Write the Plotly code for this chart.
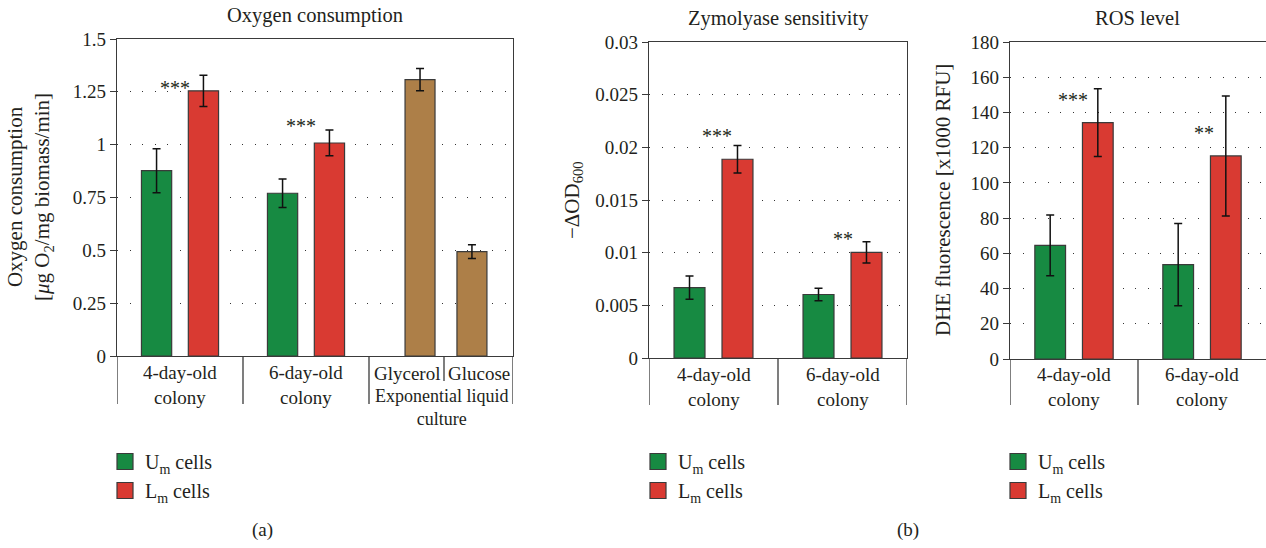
import plotly.graph_objects as go

W, H = 1266, 548

# ---------------- data ----------------
# (a) Oxygen consumption
a_colony_labels = ["4-day-old<br>colony", "6-day-old<br>colony"]
a_um = [0.877, 0.770]
a_um_err = [0.104, 0.067]
a_lm = [1.255, 1.008]
a_lm_err = [0.074, 0.061]
a_liquid_labels = ["Glycerol", "Glucose"]
a_liquid = [1.308, 0.494]
a_liquid_err = [0.053, 0.033]
a_liquid_group = "Exponential liquid<br>culture"
a_sig = ["***", "***"]
a_ticks = [0, 0.25, 0.5, 0.75, 1, 1.25, 1.5]
a_ticktext = ["0", "0.25", "0.5", "0.75", "1", "1.25", "1.5"]

# (b) Zymolyase sensitivity
b_labels = ["4-day-old<br>colony", "6-day-old<br>colony"]
b_um = [0.00668, 0.00603]
b_um_err = [0.0011, 0.0006]
b_lm = [0.01887, 0.01003]
b_lm_err = [0.0013, 0.0010]
b_sig = ["***", "**"]
b_ticks = [0, 0.005, 0.01, 0.015, 0.02, 0.025, 0.03]
b_ticktext = ["0", "0.005", "0.01", "0.015", "0.02", "0.025", "0.03"]

# (c) ROS level
c_labels = ["4-day-old<br>colony", "6-day-old<br>colony"]
c_um = [64.5, 53.6]
c_um_err = [17.2, 23.3]
c_lm = [134.2, 115.3]
c_lm_err = [19.2, 34.1]
c_sig = ["***", "**"]
c_ticks = [0, 20, 40, 60, 80, 100, 120, 140, 160, 180]
c_ticktext = [str(v) for v in c_ticks]

series_names = ["U<sub>m</sub> cells", "L<sub>m</sub> cells"]

# ---------------- style ----------------
FONT = "Liberation Serif"
TXT = "#231f20"
GREEN, RED, BROWN = "#178a42", "#d93a32", "#ad7f48"
EDGE = "#3a3a3a"
FS = 19

fig = go.Figure()

colony_x = [0.5, 1.5]
OFF = 0.186
BW = 0.24


def err(arr):
    return dict(type="data", array=arr, color="#111111", thickness=1.5, width=4)


def add_pair(um, um_e, lm, lm_e, xa, ya, leg):
    for vals, errs, col, name, dx in ((um, um_e, GREEN, series_names[0], -OFF),
                                      (lm, lm_e, RED, series_names[1], OFF)):
        fig.add_trace(go.Bar(x=[c + dx for c in colony_x], y=vals, width=BW, error_y=err(errs),
                             marker=dict(color=col, line=dict(color=EDGE, width=1.2)),
                             name=name, xaxis=xa, yaxis=ya, showlegend=False, legendgroup=name))
        # legend key (larger square swatch than the default bar key)
        fig.add_trace(go.Scatter(x=[None], y=[None], mode="markers", name=name, xaxis=xa, yaxis=ya,
                                 legend=leg, legendgroup=name, hoverinfo="skip",
                                 marker=dict(symbol="square", size=18, color=col,
                                             line=dict(color=EDGE, width=1.2))))


add_pair(a_um, a_um_err, a_lm, a_lm_err, "x", "y", "legend")
liquid_x = [2.405, 2.817]
fig.add_trace(go.Bar(x=liquid_x, y=a_liquid, width=0.238, error_y=err(a_liquid_err),
                     marker=dict(color=BROWN, line=dict(color=EDGE, width=1.2)),
                     name="Exponential liquid culture", showlegend=False, xaxis="x", yaxis="y"))
add_pair(b_um, b_um_err, b_lm, b_lm_err, "x2", "y2", "legend2")
add_pair(c_um, c_um_err, c_lm, c_lm_err, "x3", "y3", "legend3")


# ---------------- axes ----------------
def px_x(p):
    return p / W


def px_y(p):
    return 1 - p / H


tickfont = dict(family=FONT, size=FS, color=TXT)
common_x = dict(showline=True, linecolor=EDGE, linewidth=1.3, mirror=True, ticks="",
                showticklabels=False, showgrid=False, zeroline=False, automargin=False)
common_y = dict(showline=True, linecolor=EDGE, linewidth=1.3, ticks="outside", ticklen=6,
                tickcolor=EDGE, tickwidth=1.2, showgrid=True, gridcolor="#333333",
                gridwidth=1.4, griddash="1px,11.5px", zeroline=False, tickfont=tickfont,
                automargin=False)

pa = dict(l=117, r=513, t=39, b=356)
pb = dict(l=649, r=907, t=42, b=358)
pc = dict(l=1010, r=1266, t=42, b=359)

fig.update_layout(
    xaxis=dict(domain=[px_x(pa["l"]), px_x(pa["r"])], range=[0, 396 / 126], anchor="y", **common_x),
    yaxis=dict(domain=[px_y(pa["b"]), px_y(pa["t"])], range=[0, 1.5], anchor="x", mirror=True,
               tickvals=a_ticks, ticktext=a_ticktext, **common_y),
    xaxis2=dict(domain=[px_x(pb["l"]), px_x(pb["r"])], range=[0, 2], anchor="y2", **common_x),
    yaxis2=dict(domain=[px_y(pb["b"]), px_y(pb["t"])], range=[0, 0.03], anchor="x2", mirror=True,
                tickvals=b_ticks, ticktext=b_ticktext, **common_y),
    xaxis3=dict(domain=[px_x(pc["l"]), px_x(pc["r"])], range=[0, 2], anchor="y3", **common_x),
    yaxis3=dict(domain=[px_y(pc["b"]), px_y(pc["t"])], range=[0, 180], anchor="x3", mirror=False,
                tickvals=c_ticks, ticktext=c_ticktext, **common_y),
)

# category separators below the axes
shapes = []


def sep(xref, xs, top_px, bot_px):
    for xv in xs:
        shapes.append(dict(type="line", xref=xref, yref="paper", x0=xv, x1=xv,
                           y0=px_y(top_px), y1=px_y(bot_px), line=dict(color=EDGE, width=1.3)))


sep("x", [0, 1, 2, 396 / 126], pa["b"], 404)
sep("x", [327 / 126], pa["b"], 381)
sep("x2", [0, 1, 2], pb["b"], 405)
sep("x3", [0, 1], pc["b"], 405)
fig.update_layout(shapes=shapes)

# ---------------- annotations ----------------
ann = []


def text(x, y, s, xref="paper", yref="paper", size=FS, angle=0, xanchor="center",
         yanchor="middle", yshift=0):
    ann.append(dict(x=x, y=y, xref=xref, yref=yref, text=s, showarrow=False, textangle=angle,
                    xanchor=xanchor, yanchor=yanchor, yshift=yshift,
                    font=dict(family=FONT, size=size, color=TXT)))


# titles
text(px_x(315), px_y(16), "Oxygen consumption", size=20.5)
text(px_x(778), px_y(18), "Zymolyase sensitivity", size=20.5)
text(px_x(1137), px_y(18), "ROS level", size=20.5)

# y titles
text(px_x(30), px_y(197), "Oxygen consumption<br>[<i>μ</i>g O<sub>2</sub>/mg biomass/min]", size=21, angle=-90)
text(px_x(573), px_y(200), "−ΔOD<sub>600</sub>", size=21, angle=-90)
text(px_x(943), px_y(200), "DHE fluorescence [x1000 RFU]", size=21, angle=-90)

# category labels (first line centred ~17 px below the axis)
LH = 1.3 * FS
for lab, xc in zip(a_colony_labels, colony_x):
    text(xc, px_y(373 + LH / 2), lab, xref="x")
for lab, xc in zip(a_liquid_labels, [(406.5 - 117) / 126, (479 - 117) / 126]):
    text(xc, px_y(373), lab, xref="x")
text((441 - 117) / 126, px_y(396 + 1.3 * 18 / 2), a_liquid_group, xref="x", size=18)
for lab, xc in zip(b_labels, colony_x):
    text(xc, px_y(375 + LH / 2), lab, xref="x2")
for lab, xc in zip(c_labels, colony_x):
    text(xc, px_y(375 + LH / 2), lab, xref="x3")

# significance stars
sig_pos_a = [(0.46, 1.27), (1.46, 1.09)]
sig_pos_b = [(0.53, 0.0211), (1.504, 0.0113)]
sig_pos_c = [(0.49, 147.0), (1.516, 128.5)]
for s, (xv, yv) in zip(a_sig, sig_pos_a):
    text(xv, yv, s, xref="x", yref="y", size=20)
for s, (xv, yv) in zip(b_sig, sig_pos_b):
    text(xv, yv, s, xref="x2", yref="y2", size=20)
for s, (xv, yv) in zip(c_sig, sig_pos_c):
    text(xv, yv, s, xref="x3", yref="y3", size=20)

# panel letters
text(px_x(262), px_y(530), "(a)")
text(px_x(908), px_y(530), "(b)")
fig.update_layout(annotations=ann)

legfont = dict(family=FONT, size=20, color=TXT)
legbase = dict(xanchor="left", yanchor="top", bgcolor="rgba(0,0,0,0)", font=legfont,
               traceorder="normal", itemsizing="trace", tracegroupgap=0)
fig.update_layout(
    legend=dict(x=px_x(105), y=px_y(442), **legbase),
    legend2=dict(x=px_x(638), y=px_y(442), **legbase),
    legend3=dict(x=px_x(998), y=px_y(442), **legbase),
)

fig.update_layout(width=W, height=H, autosize=False,
                  margin=dict(l=0, r=0, t=0, b=0, pad=0, autoexpand=False),
                  barmode="overlay", plot_bgcolor="white", paper_bgcolor="white",
                  font=dict(family=FONT, size=FS, color=TXT))

fig.write_html("out.html", config={"displayModeBar": False},
               post_script="document.body.style.margin='0px';document.body.style.overflow='hidden';")
